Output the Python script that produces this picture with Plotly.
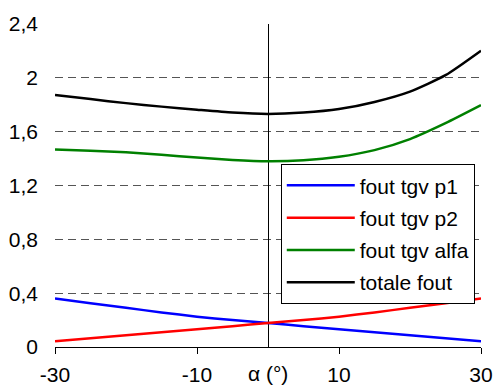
import plotly.graph_objects as go

# Angle of attack (degrees)
alpha = [-30, -25, -20, -15, -10, -5, 0, 5, 10, 15, 20, 25, 30]

# Error contributions
fout_p1 = [0.360, 0.325, 0.291, 0.257, 0.225, 0.200, 0.178, 0.155, 0.132, 0.109, 0.087, 0.065, 0.043]
fout_p2 = [0.043, 0.065, 0.087, 0.109, 0.132, 0.155, 0.178, 0.200, 0.225, 0.257, 0.291, 0.325, 0.360]
fout_alfa = [1.468, 1.458, 1.447, 1.428, 1.408, 1.390, 1.380, 1.387, 1.413, 1.463, 1.545, 1.663, 1.797]
totale_fout = [1.873, 1.842, 1.812, 1.786, 1.763, 1.742, 1.732, 1.742, 1.768, 1.821, 1.898, 2.020, 2.202]

series_names = ["fout tgv p1", "fout tgv p2", "fout tgv alfa", "totale fout"]
series_colors = ["#0000FF", "#FF0000", "#008000", "#000000"]

x_tickvals = [-30, -10, 10, 30]
x_ticktext = ["-30", "-10", "10", "30"]
y_tickvals = [0, 0.4, 0.8, 1.2, 1.6, 2.0, 2.4]
y_ticktext = ["0", "0,4", "0,8", "1,2", "1,6", "2", "2,4"]

FONT = "Arial, Liberation Sans, sans-serif"
FS = 21

fig = go.Figure()
for i, (name, ys, col) in enumerate(zip(series_names,
                                        [fout_p1, fout_p2, fout_alfa, totale_fout],
                                        series_colors)):
    fig.add_trace(go.Scatter(
        x=alpha, y=ys, name=name, mode="lines",
        line=dict(color=col, width=2.5, shape="spline", smoothing=0.6),
        legendgroup=f"g{i}",
    ))

fig.update_layout(
    width=493, height=387,
    margin=dict(l=55, r=12, t=24, b=40),
    plot_bgcolor="white", paper_bgcolor="white",
    font=dict(family=FONT, size=FS, color="black"),
    showlegend=True,
    legend=dict(
        x=0.53, y=0.566, xanchor="left", yanchor="top",
        bgcolor="white", bordercolor="black", borderwidth=1,
        font=dict(family=FONT, size=FS, color="black"),
        tracegroupgap=2, itemwidth=68,
    ),
    xaxis=dict(
        range=[-30, 30], tickvals=x_tickvals, ticktext=x_ticktext,
        showgrid=False, showline=True, linecolor="black", linewidth=1,
        ticks="outside", ticklen=6, tickcolor="black", tickwidth=1,
        zeroline=True, zerolinecolor="black", zerolinewidth=1,
        ticklabelstandoff=3,
        tickfont=dict(family=FONT, size=FS), fixedrange=True,
        automargin=False,
    ),
    yaxis=dict(
        range=[0, 2.4], tickvals=y_tickvals, ticktext=y_ticktext,
        showgrid=True, gridcolor="#555555", gridwidth=1, griddash="8px,5px",
        showline=False, zeroline=False, ticks="",
        ticklabelstandoff=16,
        tickfont=dict(family=FONT, size=FS), fixedrange=True,
        automargin=False,
    ),
    annotations=[dict(
        x=0, y=0, xref="x", yref="paper", yshift=-26,
        text="α (°)", showarrow=False, xanchor="center", yanchor="middle",
        font=dict(family=FONT, size=FS, color="black"),
    )],
)

fig.write_html("out.html")
